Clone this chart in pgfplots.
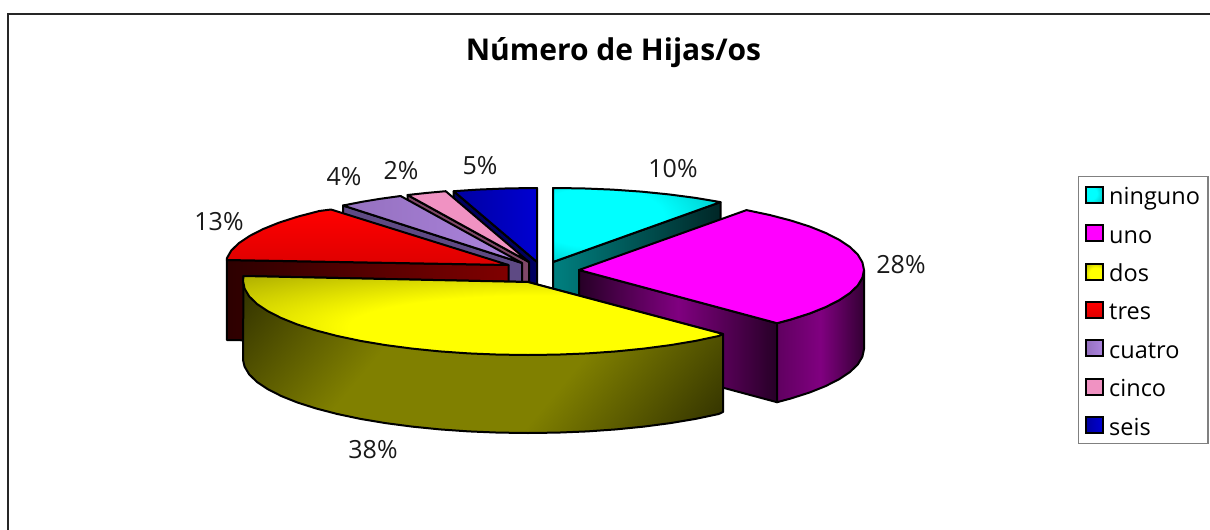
\documentclass[border=0pt]{standalone}
\usepackage{fontspec}
\setmainfont{Open Sans}
\usepackage{pgfplots}
\pgfplotsset{compat=1.18}
\definecolor{cyanT}{RGB}{0,255,255}
\definecolor{cyanE}{RGB}{0,130,130}
\definecolor{magT}{RGB}{255,0,255}
\definecolor{magE}{RGB}{150,0,150}
\definecolor{yelT}{RGB}{255,255,0}
\definecolor{yelE}{RGB}{128,128,0}
\definecolor{cyanW}{RGB}{0,128,128}
\definecolor{magW}{RGB}{128,0,128}
\definecolor{yelW}{RGB}{128,128,0}
\definecolor{yelD}{RGB}{44,44,0}
\definecolor{redW}{RGB}{128,0,0}
\definecolor{purT}{RGB}{172,132,222}
\definecolor{purE}{RGB}{148,112,190}
\definecolor{purW}{RGB}{94,74,132}
\definecolor{pinT}{RGB}{240,146,194}
\definecolor{pinW}{RGB}{128,72,104}
\definecolor{bluT}{RGB}{0,0,210}
\definecolor{bluE}{RGB}{0,0,160}
\definecolor{bluW}{RGB}{0,0,96}
\pgfdeclareradialshading{cyanTop}{\pgfpoint{-18bp}{8bp}}{color(0bp)=(cyanT);color(20bp)=(cyanT);color(58bp)=(cyanE)}
\pgfdeclareradialshading{magTop}{\pgfpoint{0bp}{0bp}}{color(0bp)=(magT);color(26bp)=(magT);color(60bp)=(magE)}
\pgfdeclareradialshading{yelTop}{\pgfpoint{10bp}{-12bp}}{color(0bp)=(yelT);color(20bp)=(yelT);color(50bp)=(yelE)}
\pgfdeclareverticalshading{yelSide}{100bp}{color(0bp)=(yelD);color(14bp)=(yelD);color(38bp)=(yelW);color(62bp)=(yelW);color(86bp)=(yelD);color(100bp)=(yelD)}
\pgfplotsset{slice/.style={no marks, forget plot, draw=black, line width=2pt, line join=round}}
\begin{document}
\begin{tikzpicture}
\path[use as bounding box] (0,0) rectangle (1210pt,530pt);
\begin{axis}[
    at={(0pt,0pt)}, anchor=south west,
    scale only axis, width=1210pt, height=530pt,
    xmin=0, xmax=1210, ymin=0, ymax=530, y dir=reverse,
    axis lines=none, clip=false,
    legend image code/.code={\path[draw=black, line width=2pt, #1] (-3pt,-8pt) rectangle (14pt,8pt); \path (18pt,0pt);},
    legend style={at={(axis cs:1078,176)}, anchor=north west, draw=gray, line width=1.2pt,
        font=\fontsize{23.5}{24}\selectfont, row sep=11.9pt, inner xsep=6pt, inner ysep=5pt,
        cells={anchor=west, text height=21pt, text depth=5pt, inner ysep=0pt}},
]
% outer frame
\addplot[no marks, forget plot, line width=2pt, draw=black!85] coordinates {(7.5,530) (7.5,14) (1210,14)};

% seis
\addplot[slice, fill=bluW] coordinates {(453.7,191.2) (537,262) (537,342) (453.7,271.2)} --cycle;
\addplot[slice, left color=bluE, right color=bluT] coordinates {(537,262) (453.7,191.2) (477.7,189.6) (507.2,188.4) (537,188)} --cycle;
% cinco
\addplot[slice, fill=pinW] coordinates {(407.6,195) (529,262) (529,342) (407.6,275)} --cycle;
\addplot[slice, fill=pinT] coordinates {(529,262) (407.6,195) (426.9,192.9) (445.7,191.2)} --cycle;
% cuatro
\addplot[slice, fill=purW] coordinates {(343,205.5) (522,263) (522,343) (343,285.5)} --cycle;
\addplot[slice, left color=purE, right color=purT] coordinates {(522,263) (343,205.5) (362.6,201.7) (379.5,198.9) (400.6,196)} --cycle;
% tres
\addplot[slice, left color=redW!35!black, right color=redW] coordinates {(226.8,260) (508.5,265) (508.5,345) (226.8,340)} --cycle;
\addplot[slice, top color=red, bottom color=red!87!black] coordinates {(508.5,265) (226.8,260) (227,258) (231.2,250.6) (238.9,243.1) (249.7,235.9) (263.2,229) (279.4,222.5) (298.2,216.5) (319.3,211) (331,209.5)} --cycle;
% ninguno
\addplot[slice, left color=cyanW, right color=cyanW!30!black] coordinates {(553,262) (720.5,202.1) (720.5,282) (553,342)} --cycle;
\addplot[slice, shade, shading=cyanTop] coordinates {(553,262) (553,188) (582.8,188.4) (612.3,189.6) (641.1,191.6) (668.9,194.4) (695.5,197.9) (720.5,202.1)} --cycle;
% uno
\addplot[slice, left color=magW!30!black, right color=magW!30!black, middle color=magW] coordinates {(579,270) (777,323.2) (777,402.2) (579,349)} --cycle;
\addplot[slice, left color=magW!75!black, right color=magW!40!black, middle color=magW] coordinates {(864,270) (862.4,277.7) (857.8,285.4) (850.1,292.9) (839.3,300.1) (825.8,307) (809.6,313.5) (790.8,319.5) (777,323.2) (777,402.2) (790.8,398.5) (809.6,392.5) (825.8,386) (839.3,379.1) (850.1,371.9) (857.8,364.4) (862.4,356.7) (864,349)} --cycle;
\addplot[slice, shade, shading=magTop] coordinates {(579,270) (746.5,210.1) (769.7,215) (790.8,220.5) (809.6,226.5) (825.8,233) (839.3,239.9) (850.1,247.1) (857.8,254.6) (862.4,262.3) (864,270) (862.4,277.7) (857.8,285.4) (850.1,292.9) (839.3,300.1) (825.8,307) (809.6,313.5) (790.8,319.5) (777,323.2)} --cycle;
% dos
\addplot[slice, shade, shading=yelSide, shading angle=50] coordinates {(243.5,276) (243,360) (244.6,366.7) (249.2,374.4) (256.9,381.9) (267.7,389.1) (281.2,396) (297.4,402.5) (316.2,408.5) (337.3,414) (360.5,418.9) (385.5,423.1) (412.1,426.6) (439.9,429.4) (468.7,431.4) (498.2,432.6) (528,433) (557.8,432.6) (587.3,431.4) (616.1,429.4) (643.9,426.6) (670.5,423.1) (695.5,418.9) (718.7,414) (723,412) (723,334) (528,282)} --cycle;
\addplot[slice, shade, shading=yelTop] coordinates {(528,282) (723,334) (718.7,336) (695.5,340.9) (670.5,345.1) (643.9,348.6) (616.1,351.4) (587.3,353.4) (557.8,354.6) (528,355) (498.2,354.6) (468.7,353.4) (439.9,351.4) (412.1,348.6) (385.5,345.1) (360.5,340.9) (337.3,336) (316.2,330.5) (297.4,324.5) (281.2,318) (267.7,311.1) (256.9,303.9) (249.2,296.4) (244.6,288.7) (243,281) (243.5,276)} --cycle;

% legend, in the order of the slices
\addlegendimage{shade, shading=cyanTop}\addlegendentry{ninguno\hspace{3pt}}
\addlegendimage{shade, shading=magTop}\addlegendentry{uno}
\addlegendimage{shade, shading=yelTop}\addlegendentry{dos}
\addlegendimage{top color=red, bottom color=red!87!black}\addlegendentry{tres}
\addlegendimage{left color=purE, right color=purT}\addlegendentry{cuatro}
\addlegendimage{fill=pinT}\addlegendentry{cinco}
\addlegendimage{left color=bluE, right color=bluT}\addlegendentry{seis}

% labels
\node[font=\fontsize{30}{34}\selectfont\bfseries] at (axis cs:613.5,53) {Número de Hijas/os};
\begin{scope}[every node/.style={font=\fontsize{25}{28}\selectfont, text=black!90}]
\node at (axis cs:673,169) {10\%};
\node at (axis cs:901,265) {28\%};
\node at (axis cs:373,450) {38\%};
\node at (axis cs:219,222) {13\%};
\node at (axis cs:344,177) {4\%};
\node at (axis cs:401,171) {2\%};
\node at (axis cs:480,166) {5\%};
\end{scope}
\end{axis}
\end{tikzpicture}
\end{document}
